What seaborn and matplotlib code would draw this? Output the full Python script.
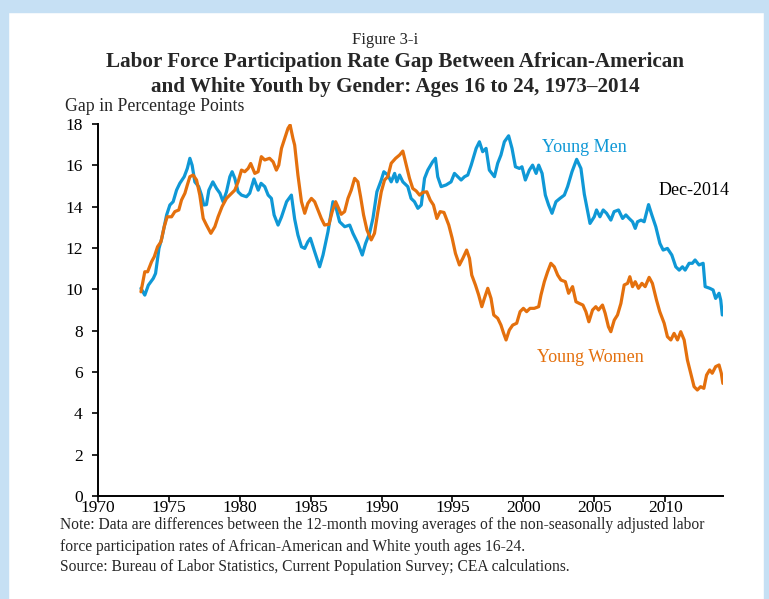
import matplotlib
matplotlib.use("Agg")
import matplotlib.pyplot as plt
import matplotlib.patches as mpatches
import seaborn as sns
import pandas as pd

men_year = [1973.03, 1973.3, 1973.55, 1973.9, 1974.06, 1974.3, 1974.5, 1974.84, 1975.07, 1975.3,
            1975.54, 1975.77, 1976.08, 1976.3, 1976.48, 1976.64, 1976.83, 1977.1, 1977.3, 1977.46,
            1977.65, 1977.82, 1978.1, 1978.36, 1978.6, 1978.82, 1979.06, 1979.3, 1979.46, 1979.65,
            1979.88, 1980.12, 1980.47, 1980.7, 1981.0, 1981.3, 1981.5, 1981.76, 1982.0, 1982.23,
            1982.42, 1982.7, 1982.94, 1983.3, 1983.64, 1983.87, 1984.1, 1984.35, 1984.58, 1984.8,
            1984.98, 1985.28, 1985.63, 1985.87, 1986.22, 1986.57, 1986.8, 1987.04, 1987.4, 1987.75,
            1987.98, 1988.33, 1988.64, 1988.87, 1989.15, 1989.39, 1989.67, 1989.98, 1990.16, 1990.44,
            1990.68, 1990.92, 1991.08, 1991.27, 1991.5, 1991.85, 1992.08, 1992.32, 1992.56, 1992.8,
            1993.03, 1993.26, 1993.6, 1993.8, 1993.96, 1994.2, 1994.55, 1994.9, 1995.14, 1995.37,
            1995.61, 1995.85, 1996.08, 1996.32, 1996.67, 1996.9, 1997.13, 1997.37, 1997.6, 1997.96,
            1998.19, 1998.42, 1998.66, 1998.96, 1999.2, 1999.44, 1999.72, 1999.9, 2000.14, 2000.42,
            2000.65, 2000.9, 2001.08, 2001.32, 2001.55, 2001.78, 2002.02, 2002.3, 2002.58, 2002.89,
            2003.12, 2003.43, 2003.76, 2004.06, 2004.3, 2004.7, 2005.0, 2005.16, 2005.4, 2005.63,
            2005.87, 2006.17, 2006.4, 2006.71, 2007.0, 2007.23, 2007.46, 2007.7, 2007.89, 2008.05,
            2008.3, 2008.52, 2008.83, 2009.06, 2009.34, 2009.63, 2009.86, 2010.16, 2010.47, 2010.75,
            2010.99, 2011.22, 2011.41, 2011.69, 2011.92, 2012.11, 2012.39, 2012.68, 2012.82, 2013.15,
            2013.38, 2013.56, 2013.8, 2013.92, 2014.03]
men_gap = [10.05, 9.72, 10.2, 10.53, 10.77, 11.98, 12.47, 13.6, 14.08, 14.24,
           14.8, 15.13, 15.45, 15.85, 16.34, 16.0, 15.2, 14.97, 14.56, 14.08,
           14.1, 14.8, 15.2, 14.88, 14.65, 14.24, 14.72, 15.45, 15.69, 15.37,
           14.72, 14.56, 14.48, 14.65, 15.34, 14.8, 15.13, 14.97, 14.56, 14.4,
           13.6, 13.11, 13.5, 14.24, 14.56, 13.4, 12.63, 12.06, 11.98, 12.3,
           12.47, 11.82, 11.09, 11.66, 12.79, 14.24, 13.92, 13.27, 13.03, 13.11,
           12.71, 12.22, 11.66, 12.22, 12.71, 13.43, 14.72, 15.29, 15.69, 15.53,
           15.2, 15.61, 15.2, 15.53, 15.2, 14.97, 14.4, 14.24, 13.92, 14.08,
           15.37, 15.77, 16.17, 16.34, 15.45, 14.97, 15.05, 15.2, 15.61, 15.45,
           15.29, 15.45, 15.53, 16.01, 16.82, 17.14, 16.66, 16.82, 15.77, 15.45,
           16.1, 16.5, 17.14, 17.43, 16.82, 15.93, 15.85, 15.93, 15.29, 15.77,
           16.01, 15.61, 16.01, 15.61, 14.56, 14.08, 13.68, 14.24, 14.4, 14.56,
           14.97, 15.69, 16.29, 15.85, 14.6, 13.19, 13.51, 13.84, 13.51, 13.84,
           13.68, 13.35, 13.76, 13.84, 13.43, 13.6, 13.43, 13.27, 12.95, 13.27,
           13.35, 13.27, 14.1, 13.6, 13.03, 12.22, 11.9, 11.98, 11.66, 11.09,
           10.93, 11.09, 10.93, 11.26, 11.26, 11.42, 11.18, 11.26, 10.13, 10.05,
           9.97, 9.56, 9.81, 9.48, 8.76]

women_year = [1973.03, 1973.3, 1973.5, 1973.78, 1973.97, 1974.2, 1974.44, 1974.67, 1974.88, 1975.19,
              1975.42, 1975.7, 1975.89, 1976.13, 1976.3, 1976.48, 1976.71, 1976.95, 1977.18, 1977.42,
              1977.65, 1977.96, 1978.24, 1978.47, 1978.75, 1979.06, 1979.3, 1979.65, 1979.88, 1980.12,
              1980.35, 1980.59, 1980.77, 1981.06, 1981.29, 1981.52, 1981.76, 1982.1, 1982.35, 1982.58,
              1982.75, 1982.94, 1983.17, 1983.4, 1983.55, 1983.75, 1983.87, 1984.1, 1984.35, 1984.58,
              1984.8, 1985.05, 1985.28, 1985.51, 1985.75, 1985.98, 1986.29, 1986.52, 1986.76, 1986.92,
              1987.15, 1987.39, 1987.63, 1987.86, 1988.1, 1988.33, 1988.52, 1988.73, 1988.97, 1989.27,
              1989.5, 1989.74, 1989.98, 1990.21, 1990.44, 1990.68, 1990.99, 1991.27, 1991.5, 1991.74,
              1991.97, 1992.2, 1992.44, 1992.68, 1992.91, 1993.19, 1993.43, 1993.66, 1993.9, 1994.13,
              1994.4, 1994.74, 1994.98, 1995.21, 1995.49, 1995.73, 1996.0, 1996.2, 1996.36, 1996.62,
              1996.85, 1997.07, 1997.25, 1997.49, 1997.72, 1997.91, 1998.19, 1998.42, 1998.61, 1998.78,
              1999.01, 1999.25, 1999.53, 1999.77, 2000.0, 2000.23, 2000.47, 2000.77, 2001.08, 2001.24,
              2001.48, 2001.71, 2001.94, 2002.18, 2002.42, 2002.65, 2002.96, 2003.19, 2003.47, 2003.71,
              2003.94, 2004.2, 2004.41, 2004.62, 2004.88, 2005.11, 2005.3, 2005.58, 2005.77, 2006.0,
              2006.17, 2006.41, 2006.64, 2006.88, 2007.11, 2007.35, 2007.51, 2007.7, 2007.89, 2008.12,
              2008.36, 2008.59, 2008.87, 2009.1, 2009.39, 2009.62, 2009.93, 2010.16, 2010.4, 2010.63,
              2010.87, 2011.1, 2011.34, 2011.57, 2011.8, 2012.04, 2012.27, 2012.5, 2012.73, 2012.92,
              2013.14, 2013.32, 2013.56, 2013.8, 2013.96, 2014.07]
women_gap = [9.88, 10.85, 10.85, 11.34, 11.58, 12.06, 12.3, 13.03, 13.51, 13.51,
             13.76, 13.84, 14.32, 14.65, 15.05, 15.45, 15.53, 15.29, 14.56, 13.43,
             13.11, 12.71, 13.03, 13.51, 14.0, 14.4, 14.56, 14.8, 15.2, 15.77,
             15.69, 15.85, 16.09, 15.61, 15.69, 16.42, 16.26, 16.34, 16.17, 15.77,
             16.01, 16.82, 17.3, 17.79, 17.95, 17.3, 16.98, 15.53, 14.24, 13.68,
             14.16, 14.4, 14.24, 13.84, 13.43, 13.11, 13.15, 13.76, 14.24, 14.0,
             13.63, 13.76, 14.4, 14.8, 15.37, 15.2, 14.48, 13.6, 12.87, 12.39,
             12.71, 13.76, 14.72, 15.29, 15.45, 16.1, 16.34, 16.5, 16.69, 16.01,
             15.37, 14.88, 14.76, 14.56, 14.69, 14.72, 14.32, 14.08, 13.43, 13.76,
             13.72, 13.11, 12.47, 11.74, 11.18, 11.5, 11.9, 11.5, 10.69, 10.21,
             9.72, 9.16, 9.56, 10.05, 9.56, 8.76, 8.6, 8.27, 7.87, 7.55,
             8.03, 8.27, 8.36, 8.92, 9.08, 8.92, 9.08, 9.08, 9.16, 9.72,
             10.37, 10.85, 11.26, 11.09, 10.69, 10.45, 10.37, 9.81, 10.13, 9.4,
             9.32, 9.24, 8.92, 8.43, 9.0, 9.16, 9.0, 9.24, 8.84, 8.19,
             7.95, 8.51, 8.76, 9.32, 10.21, 10.29, 10.61, 10.13, 10.37, 10.05,
             10.29, 10.13, 10.58, 10.29, 9.48, 8.92, 8.36, 7.71, 7.55, 7.87,
             7.55, 7.95, 7.55, 6.58, 5.94, 5.29, 5.13, 5.29, 5.21, 5.85,
             6.1, 5.94, 6.26, 6.34, 5.94, 5.45]

x_ticks = [1970, 1975, 1980, 1985, 1990, 1995, 2000, 2005, 2010]
y_ticks = [0, 2, 4, 6, 8, 10, 12, 14, 16, 18]

BLUE = "#0f98d6"
ORANGE = "#e4700d"

sns.set_style("ticks")
plt.rcParams["font.family"] = ["Liberation Serif", "DejaVu Serif"]

W, H = 769, 599
fig = plt.figure(figsize=(W / 100, H / 100), dpi=100)
fig.patch.set_facecolor("white")

# light blue frame
frame_c = "#c6e0f4"
fig.patches.append(mpatches.Rectangle((0, 1 - 12 / H), 1, 12 / H, transform=fig.transFigure, color=frame_c, zorder=0))
fig.patches.append(mpatches.Rectangle((0, 0), 8 / W, 1, transform=fig.transFigure, color=frame_c, zorder=0))
fig.patches.append(mpatches.Rectangle((1 - 5 / W, 0), 5 / W, 1, transform=fig.transFigure, color=frame_c, zorder=0))

ax = fig.add_axes([98 / W, 1 - 496 / H, (723 - 98) / W, (496 - 124) / H])
ax.set_facecolor("white")

men_df = pd.DataFrame({"year": men_year, "gap": men_gap})
women_df = pd.DataFrame({"year": women_year, "gap": women_gap})
sns.lineplot(data=men_df, x="year", y="gap", ax=ax, color=BLUE, linewidth=2.3, estimator=None, sort=False)
sns.lineplot(data=women_df, x="year", y="gap", ax=ax, color=ORANGE, linewidth=2.3, estimator=None, sort=False)

ax.set_xlim(1970, 2014.08)
ax.set_ylim(0, 18)
ax.set_xticks(x_ticks)
ax.set_yticks(y_ticks)
ax.set_xticklabels([str(t) for t in x_ticks])
ax.set_yticklabels([str(t) for t in y_ticks])
ax.set_xlabel("")
ax.set_ylabel("")
for s in ["top", "right"]:
    ax.spines[s].set_visible(False)
for s in ["left", "bottom"]:
    ax.spines[s].set_color("black")
    ax.spines[s].set_linewidth(1.4)
ax.tick_params(axis="both", direction="out", length=4, width=1.2, colors="black", labelsize=12.5)
ax.tick_params(axis="y", pad=7)
ax.tick_params(axis="x", pad=-1, labelsize=12.5)

def fx(px):
    return px / W

def fy(py):
    return 1 - py / H

fig.text(fx(385), fy(40), "Figure 3-i", ha="center", va="center", fontsize=12)
fig.text(fx(395), fy(62), "Labor Force Participation Rate Gap Between African-American",
         ha="center", va="center", fontsize=15.2, fontweight="bold")
fig.text(fx(395), fy(87), "and White Youth by Gender: Ages 16 to 24, 1973\u20132014",
         ha="center", va="center", fontsize=15.2, fontweight="bold")
fig.text(fx(65), fy(107), "Gap in Percentage Points", ha="left", va="center", fontsize=12.8)

fig.text(fx(584), fy(147), "Young Men", ha="center", va="center", fontsize=13, color=BLUE)
fig.text(fx(694), fy(190), "Dec-2014", ha="center", va="center", fontsize=13, color="black")
fig.text(fx(590), fy(357), "Young Women", ha="center", va="center", fontsize=13, color=ORANGE)

notes = [
    "Note: Data are differences between the 12-month moving averages of the non-seasonally adjusted labor",
    "force participation rates of African-American and White youth ages 16-24.",
    "Source: Bureau of Labor Statistics, Current Population Survey; CEA calculations.",
]
for yy, t in zip([525, 547, 567], notes):
    fig.text(fx(60), fy(yy), t, ha="left", va="center", fontsize=11.2)

fig.savefig("out.png", dpi=100)
